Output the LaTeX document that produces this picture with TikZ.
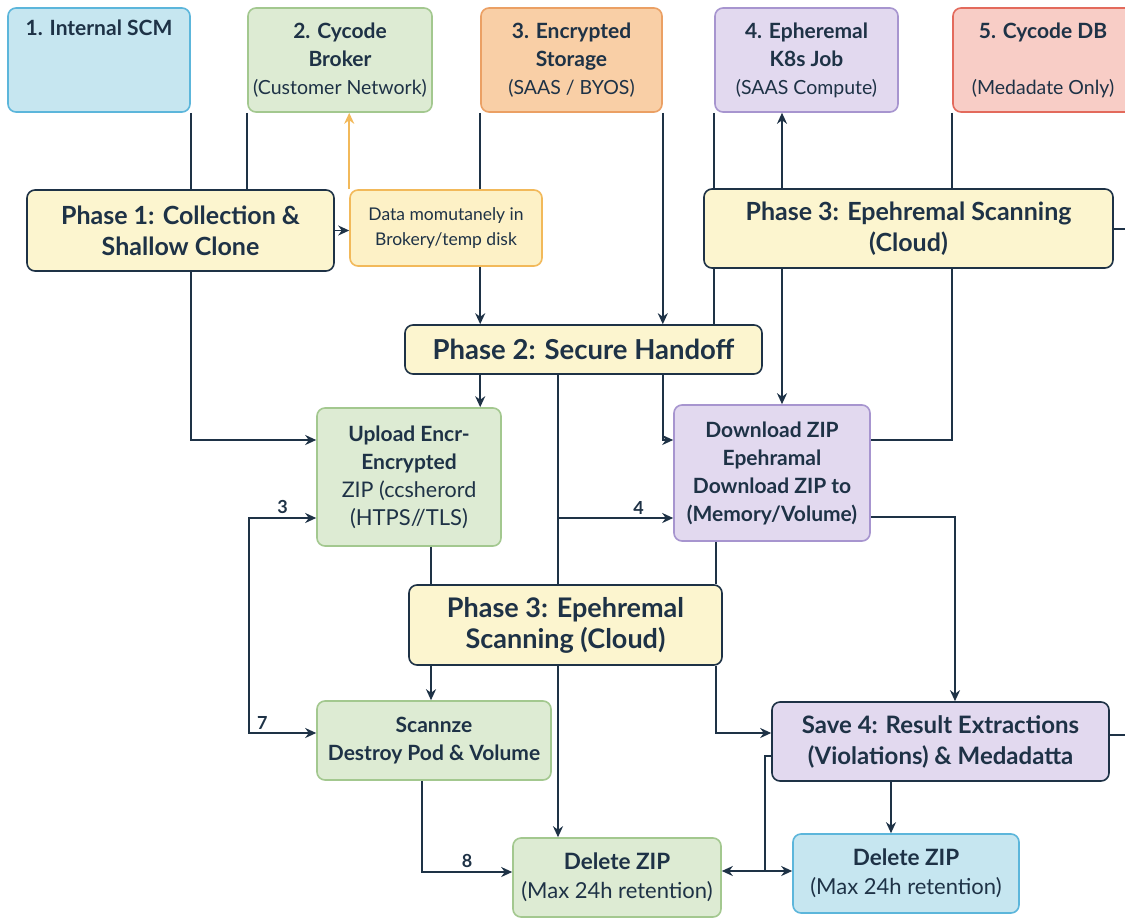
\documentclass[tikz,border=0pt]{standalone}
\usepackage{fontspec}
\setmainfont{Lato}
\usetikzlibrary{arrows.meta}

\definecolor{ink}{HTML}{1E3246}
\definecolor{phasefill}{HTML}{FCF5CF}
\definecolor{bluefill}{HTML}{C6E6F0}
\definecolor{blueline}{HTML}{5CB6DB}
\definecolor{greenfill}{HTML}{DDEBD3}
\definecolor{greenline}{HTML}{A3C88F}
\definecolor{orangefill}{HTML}{F9CFA6}
\definecolor{orangeline}{HTML}{EBA064}
\definecolor{purplefill}{HTML}{E2D9EF}
\definecolor{purpleline}{HTML}{A795CF}
\definecolor{redfill}{HTML}{F8CDC6}
\definecolor{redline}{HTML}{E36A5C}
\definecolor{tempfill}{HTML}{FDF1C6}
\definecolor{templine}{HTML}{F2B95A}

\tikzset{
  kasten/.style={draw, rounded corners=8pt, line width=1.6pt, align=center,
    inner sep=0pt, text=ink, font=\bfseries\fontsize{21}{28}\selectfont},
  phase/.style={kasten, draw=ink, fill=phasefill, font=\bfseries\fontsize{25}{31}\selectfont},
  blau/.style={kasten, draw=blueline, fill=bluefill},
  gruen/.style={kasten, draw=greenline, fill=greenfill},
  orange/.style={kasten, draw=orangeline, fill=orangefill},
  lila/.style={kasten, draw=purpleline, fill=purplefill},
  rot/.style={kasten, draw=redline, fill=redfill},
  nummer/.style={above, font=\bfseries\fontsize{18}{20}\selectfont, inner sep=3pt}
}
\newcommand{\untertitel}[1]{{\mdseries\fontsize{19.5}{28}\selectfont #1}}

\begin{document}
\begin{tikzpicture}[x=1pt, y=-1pt, color=ink, line width=1.9pt,
    >={Stealth[length=11pt,width=10pt]}]
	\fill[white] (0,0) rectangle (1125,919);
	\useasboundingbox (0,0) rectangle (1125,919);
	% Boxen oben
	\node[blau, minimum width=182, minimum height=104] (scm) at (99,60) {1. Internal SCM\\\strut\\\strut};
	\node[gruen, minimum width=184, minimum height=104] (broker) at (340,60) {2. Cycode\\Broker\\\untertitel{(Customer Network)}};
	\node[orange, minimum width=181, minimum height=104] (storage) at (571.5,60) {3. Encrypted\\Storage\\\untertitel{(SAAS / BYOS)}};
	\node[lila, minimum width=183, minimum height=104] (kjob) at (806.5,60) {4. Epheremal\\K8s Job\\\untertitel{(SAAS Compute)}};
	\node[rot, minimum width=180, minimum height=104] (db) at (1043,60) {5. Cycode DB\\\strut\\\untertitel{(Medadate Only)}};
	% Phasen und Schritte
	\node[phase, minimum width=307, minimum height=81] (phaseone) at (180.5,230.5) {Phase 1: Collection \&\\Shallow Clone};
	\node[kasten, draw=templine, fill=tempfill, minimum width=192, minimum height=76,
	  font=\mdseries\fontsize{17.5}{25}\selectfont] (tmpdisk) at (446,228) {Data momutanely in\\Brokery/temp disk};
	\node[phase, minimum width=409, minimum height=79] (phasethree) at (908.5,228.5) {Phase 3: Epehremal Scanning\\(Cloud)};
	\node[phase, minimum width=357, minimum height=49, font=\bfseries\fontsize{27.5}{31}\selectfont] (phasetwo) at (583.5,349.5) {Phase 2: Secure Handoff};
	\node[gruen, minimum width=184, minimum height=138] (upload) at (409,477) {Upload Encr-\\Encrypted\\{\mdseries\fontsize{21.5}{28}\selectfont ZIP (ccsherord}\\{\mdseries\fontsize{22}{28}\selectfont (HTPS//TLS)}};
	\node[lila, minimum width=196, minimum height=136] (download) at (772,473) {Download ZIP\\Epehramal\\Download ZIP to\\(Memory/Volume)};
	\node[phase, minimum width=313, minimum height=80, font=\bfseries\fontsize{27}{31}\selectfont] (scanmid) at (565.5,625) {Phase 3: Epehremal\\Scanning (Cloud)};
	\node[gruen, minimum width=234, minimum height=79] (scanpod) at (434,740.5) {Scannze\\Destroy Pod \& Volume};
	\node[kasten, draw=ink, fill=purplefill, minimum width=337, minimum height=79,
	  font=\bfseries\fontsize{24}{31}\selectfont] (results) at (940.5,741.5) {Save 4: Result Extractions\\(Violations) \& Medadatta};
	\node[gruen, minimum width=208, minimum height=79, font=\bfseries\fontsize{22.5}{29}\selectfont] (delzip) at (617,877.5) {Delete ZIP\\{\mdseries\fontsize{22}{29}\selectfont (Max 24h retention)}};
	\node[blau, minimum width=226, minimum height=79, font=\bfseries\fontsize{22.5}{29}\selectfont] (delzipb) at (906,873.5) {Delete ZIP\\{\mdseries\fontsize{22}{29}\selectfont (Max 24h retention)}};
	\coordinate (randoben) at (1125,229);
	\coordinate (randunten) at (1125,735);
	\coordinate (schleife) at (249,625);
	% Verbindungen Phase 1
	\draw (scm.south east) -- (scm.east |- phaseone.north);
	\draw[->] (scm.east |- phaseone.south) |- (upload.west |- 0,440);
	\draw (broker.south west) -- (broker.west |- phaseone.north);
	\draw[->,color=templine] (tmpdisk.north west) -- (tmpdisk.west |- broker.south);
	\draw[->] (phaseone.east) -- (phaseone.east -| tmpdisk.west);
	\draw (storage.south west) -- (storage.west |- tmpdisk.north);
	\draw[->] (storage.west |- tmpdisk.south) -- (storage.west |- phasetwo.north);
	\draw[->] (storage.south east) -- (storage.east |- phasetwo.north);
	% Verbindungen Phase 3 oben
	\draw (kjob.south west) -- (kjob.west |- phasethree.north);
	\draw (kjob.west |- phasethree.south) -- (kjob.west |- phasetwo.north);
	\draw[->] (phasethree.north -| 782,0) -- (782,0 |- kjob.south);
	\draw (db.south west) -- (db.west |- phasethree.north);
	\draw (db.west |- phasethree.south) |- (download.east |- 0,440);
	\draw (phasethree.east |- randoben) -- (randoben);
	\draw[->] (phasethree.south -| 782,0) -- (782,0 |- download.north);
	% Verbindungen Phase 2
	\draw[->] (phasetwo.south -| storage.west) -- (storage.west |- upload.north);
	\draw (phasetwo.south -| 558,0) -- (558,0 |- scanmid.north);
	\draw[->] (558,518) -- (download.west |- 0,518) node[nummer, pos=0.7] {4};
	\draw[->] (phasetwo.south -| storage.east) |- (download.west |- 0,440);
	\draw (upload.south -| 431,0) -- (431,0 |- scanmid.north);
	\draw (download.south -| 716,0) -- (716,0 |- scanmid.north);
	\draw[->] (download.east |- 0,517) -| (955,0 |- results.north);
	% Schleife links
	\draw[->] (schleife) |- (upload.west |- 0,518) node[nummer, pos=0.75] {3};
	\draw[->] (schleife) |- (scanpod.west |- 0,733) node[nummer, pos=0.6] {7};
	% Verbindungen unten
	\draw[->] (scanmid.south -| 431,0) -- (431,0 |- scanpod.north);
	\draw[->] (scanmid.south -| 558,0) -- (558,0 |- delzip.north);
	\draw[->] (scanmid.south -| 716,0) |- (results.west |- 0,733);
	\draw[->] (scanpod.south -| 422,0) |- (delzip.west |- 0,872) node[nummer, pos=0.75] {8};
	\draw[->] (results.south -| 891,0) -- (891,0 |- delzipb.north);
	\draw (results.east |- randunten) -- (randunten);
	\draw[<->] (delzip.east |- 0,871) -- (delzipb.west |- 0,871);
	\draw (results.west |- 0,756) -| (765,871);
\end{tikzpicture}
\end{document}
